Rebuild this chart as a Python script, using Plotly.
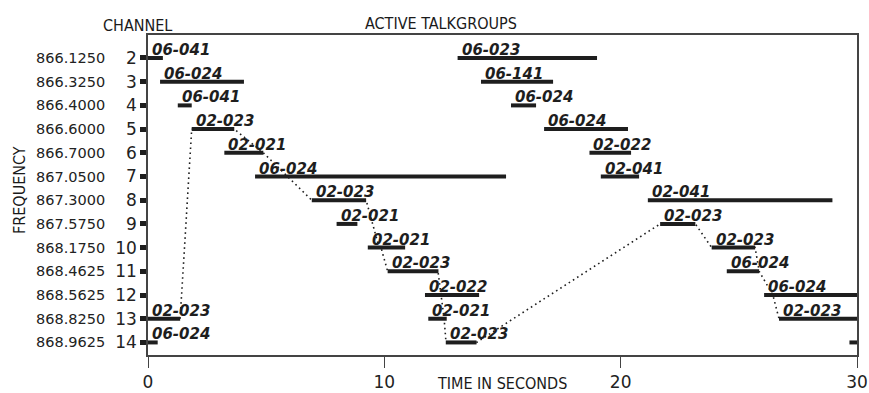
import plotly.graph_objects as go

# ---------------- data ----------------
channels = [2, 3, 4, 5, 6, 7, 8, 9, 10, 11, 12, 13, 14]
frequencies = ["866.1250", "866.3250", "866.4000", "866.6000", "866.7000",
               "867.0500", "867.3000", "867.5750", "868.1750", "868.4625",
               "868.5625", "868.8250", "868.9625"]

bar_channel = [2, 2, 3, 3, 4, 4, 5, 5, 6, 6, 7, 7, 8, 8, 9, 9,
               10, 10, 11, 11, 12, 12, 13, 13, 13, 14, 14, 14]
bar_start = [0.0, 13.10, 0.51, 14.09, 1.26, 15.36, 1.85, 16.76, 3.23, 18.68,
             4.53, 19.16, 6.93, 21.15, 7.98, 21.67, 9.30, 23.85, 10.14, 24.49,
             11.72, 26.07, 0.0, 11.86, 26.70, 0.0, 12.60, 29.68]
bar_end = [0.63, 19.00, 4.06, 17.14, 1.85, 16.42, 3.65, 20.31, 4.88, 20.44,
           15.15, 20.78, 9.23, 28.96, 8.86, 23.16, 10.88, 25.69, 12.29, 25.86,
           14.01, 30.0, 1.36, 12.64, 30.0, 0.41, 13.90, 30.0]
bar_group = ["06-041", "06-023", "06-024", "06-141", "06-041", "06-024",
             "02-023", "06-024", "02-021", "02-022", "06-024", "02-041",
             "02-023", "02-041", "02-021", "02-023", "02-021", "02-023",
             "02-023", "06-024", "02-022", "06-024", "02-023", "02-021",
             "02-023", "06-024", "02-023", ""]

# dotted path followed across channels
path_t = [1.36, 1.85, 3.65, 4.88, 6.93, 9.23, 9.78, 9.86, 10.14, 12.27, 12.40,
          12.53, 12.61, 13.90, 21.67, 23.16, 23.85, 25.69, 25.86, 26.44, 26.70, 30.0]
path_ch = [13, 5, 5, 6, 8, 8, 10, 10, 11, 11, 12, 13, 14, 14, 9, 9, 10, 10,
           11, 12, 13, 13]

x_ticks = [0, 10, 20, 30]

# ---------------- figure ----------------
W, H = 869, 393
ML, MR, MT, MB = 148, 12, 35, 38
PW = W - ML - MR
PH = H - MT - MB

INK = "#1e1e1e"
fig = go.Figure()

fig.add_trace(go.Scatter(
    x=path_t, y=path_ch, mode="lines",
    line=dict(color=INK, width=1.6, dash="1.6px,3.4px"),
    hoverinfo="skip", showlegend=False))

bx, by = [], []
for c, s, e in zip(bar_channel, bar_start, bar_end):
    bx += [s, e, None]
    by += [c, c, None]
fig.add_trace(go.Scatter(
    x=bx, y=by, mode="lines", line=dict(color=INK, width=4),
    hoverinfo="skip", showlegend=False, cliponaxis=False))

ann = []
lab_font = dict(family="DejaVu Sans", size=15, color=INK, style="italic", weight="bold")
for c, s, g in zip(bar_channel, bar_start, bar_group):
    if not g:
        continue
    ann.append(dict(x=s, y=c, xref="x", yref="y", text=g, showarrow=False,
                    xanchor="left", yanchor="bottom", xshift=2, yshift=-3,
                    font=lab_font))

freq_font = dict(family="DejaVu Sans", size=14.5, color="#222")
for c, f in zip(channels, frequencies):
    ann.append(dict(x=(107 - ML) / PW, y=c, xref="paper", yref="y", text=f,
                    showarrow=False, xanchor="right", yanchor="middle",
                    font=freq_font))

hdr_font = dict(family="DejaVu Sans Condensed", size=16, color="#1a1a1a")
ann.append(dict(x=(137 - ML) / PW, y=(H - MB - 25) / PH, xref="paper", yref="paper",
                text="CHANNEL", showarrow=False, font=hdr_font,
                xanchor="center", yanchor="middle"))
ann.append(dict(x=(441 - ML) / PW, y=(H - MB - 24) / PH, xref="paper", yref="paper",
                text="ACTIVE TALKGROUPS", showarrow=False, font=hdr_font,
                xanchor="center", yanchor="middle"))
ann.append(dict(x=(502 - ML) / PW, y=(H - MB - 383) / PH, xref="paper", yref="paper",
                text="TIME IN SECONDS", showarrow=False, font=hdr_font,
                xanchor="center", yanchor="middle"))
ann.append(dict(x=(19 - ML) / PW, y=(H - MB - 190) / PH, xref="paper", yref="paper",
                text="FREQUENCY", showarrow=False, font=hdr_font, textangle=-90,
                xanchor="center", yanchor="middle"))

fig.update_layout(
    template="none",
    width=W, height=H,
    margin=dict(l=ML, r=MR, t=MT, b=MB, pad=0, autoexpand=False),
    paper_bgcolor="white", plot_bgcolor="white",
    annotations=ann,
    xaxis=dict(range=[0, 30], tickvals=x_ticks, ticktext=[str(v) for v in x_ticks],
               ticks="outside", ticklen=11, tickwidth=1.2, tickcolor="#444",
               showline=True, linecolor="#444", linewidth=1.5, mirror=True,
               showgrid=False, zeroline=False, automargin=False,
               tickfont=dict(family="DejaVu Sans", size=17, color="#222")),
    yaxis=dict(range=[14.53, 1.03], tickvals=channels,
               ticktext=[str(c) for c in channels],
               ticks="outside", ticklen=6, tickwidth=5, tickcolor=INK,
               showline=True, linecolor="#444", linewidth=1.5, mirror=True,
               showgrid=False, zeroline=False, automargin=False,
               tickfont=dict(family="DejaVu Sans", size=17, color="#222")),
)

fig.write_html("out.html",
               config={"displayModeBar": False},
               post_script="document.body.style.margin='0';"
                           "document.body.style.overflow='hidden';")
